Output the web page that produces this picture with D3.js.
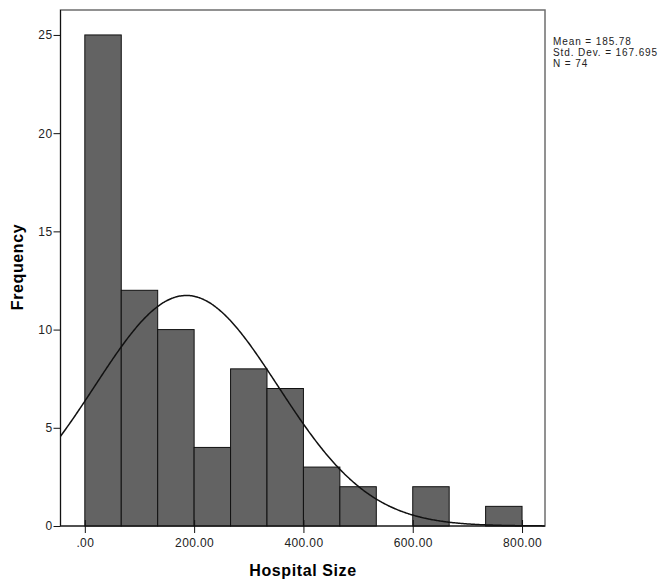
<!DOCTYPE html>
<html>
<head>
<meta charset="utf-8">
<script src="https://cdn.jsdelivr.net/npm/d3@7"></script>
<style>
  body { margin: 0; background: #fff; }
  text { font-family: "Liberation Sans", Arial, sans-serif; }
</style>
</head>
<body>
<svg id="chart" width="667" height="579"></svg>
<script>
// bin edges (Hospital Size) and counts
var binEdges = [0, 66.67, 133.33, 200, 266.67, 333.33, 400, 466.67, 533.33, 600, 666.67, 733.33, 800];
var counts = [25, 12, 10, 4, 8, 7, 3, 2, 0, 2, 0, 1];
var xTicks = [0, 200, 400, 600, 800];
var xTickLabels = [".00", "200.00", "400.00", "600.00", "800.00"];
var yTicks = [0, 5, 10, 15, 20, 25];
var statsLines = ["Mean = 185.78", "Std. Dev. = 167.695", "N = 74"];
var mean = 185.78, sd = 167.695, n = 74;

var svg = d3.select("#chart");
var plotLeft = 60.5, plotRight = 545, plotTop = 10, plotBottom = 526;

var x = d3.scaleLinear().domain([-44.5, 842]).range([plotLeft, plotRight]);
var y = d3.scaleLinear().domain([0, 26.27]).range([plotBottom, plotTop]);

// plot frame
svg.append("rect")
    .attr("x", plotLeft).attr("y", plotTop)
    .attr("width", plotRight - plotLeft).attr("height", plotBottom - plotTop)
    .attr("fill", "#fff")
    .attr("stroke", "#6e6e6e")
    .attr("stroke-width", 1.5);

// bars
var bars = counts.map(function(c, i) { return { x0: binEdges[i], x1: binEdges[i + 1], c: c }; })
    .filter(function(d) { return d.c > 0; });

svg.append("g").selectAll("rect")
    .data(bars)
    .enter().append("rect")
    .attr("x", function(d) { return x(d.x0); })
    .attr("y", function(d) { return y(d.c); })
    .attr("width", function(d) { return x(d.x1) - x(d.x0); })
    .attr("height", function(d) { return y(0) - y(d.c); })
    .attr("fill", "#636363")
    .attr("stroke", "#111")
    .attr("stroke-width", 1);

// fitted normal curve (scaled to counts)
var bw = binEdges[1] - binEdges[0];
var curveX = d3.range(-44.5, 842, 2);
var line = d3.line()
    .x(function(v) { return x(v); })
    .y(function(v) {
        var z = (v - mean) / sd;
        return y(n * bw * Math.exp(-0.5 * z * z) / (sd * Math.sqrt(2 * Math.PI)));
    })
    .curve(d3.curveBasis);

svg.append("path")
    .datum(curveX)
    .attr("d", line)
    .attr("fill", "none")
    .attr("stroke", "#111")
    .attr("stroke-width", 1.5);

// axes
var xAxis = d3.axisBottom(x)
    .tickValues(xTicks)
    .tickFormat(function(d, i) { return xTickLabels[i]; })
    .tickSize(7)
    .tickPadding(5);
var gx = svg.append("g").attr("transform", "translate(0," + plotBottom + ")").call(xAxis);
gx.select(".domain").attr("stroke", "#111").attr("d", "M" + plotLeft + ",0H" + plotRight);
gx.selectAll("line").attr("y1", -6).attr("stroke", "#111");
gx.selectAll("text").attr("font-size", 12).attr("fill", "#222")
    .attr("letter-spacing", 0.4)
    .attr("font-family", "Liberation Sans, Arial, sans-serif");

var yAxis = d3.axisLeft(y).tickValues(yTicks).tickSize(7).tickPadding(1);
var gy = svg.append("g").attr("transform", "translate(" + plotLeft + ",0)").call(yAxis);
gy.select(".domain").attr("stroke", "#111").attr("d", "M0," + plotTop + "V" + plotBottom);
gy.selectAll("line").attr("stroke", "#111");
gy.selectAll("text").attr("font-size", 12).attr("fill", "#222")
    .attr("letter-spacing", 0.4)
    .attr("font-family", "Liberation Sans, Arial, sans-serif");

// titles
svg.append("text")
    .attr("x", 303).attr("y", 576)
    .attr("text-anchor", "middle")
    .attr("font-size", 16).attr("font-weight", "bold")
    .attr("letter-spacing", 0.6)
    .text("Hospital Size");

svg.append("text")
    .attr("transform", "translate(23,267) rotate(-90)")
    .attr("text-anchor", "middle")
    .attr("font-size", 16).attr("font-weight", "bold")
    .attr("letter-spacing", 0.6)
    .text("Frequency");

// stats box text
svg.append("g").selectAll("text")
    .data(statsLines)
    .enter().append("text")
    .attr("x", 553)
    .attr("y", function(d, i) { return 45 + i * 11; })
    .attr("font-size", 10)
    .attr("letter-spacing", 0.9)
    .attr("fill", "#222")
    .text(function(d) { return d; });
</script>
</body>
</html>
